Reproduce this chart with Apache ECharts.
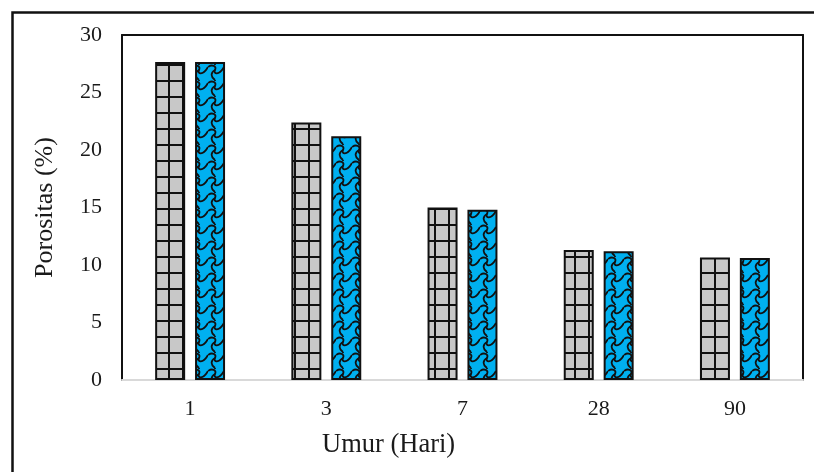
<!DOCTYPE html>
<html>
<head>
<meta charset="utf-8">
<script src="https://cdn.jsdelivr.net/npm/echarts@6/dist/echarts.min.js"></script>
<style>
html,body{margin:0;padding:0;background:#fff;}
#chart{width:814px;height:472px;}
</style>
</head>
<body>
<div id="chart"></div>
<script>
const categories = ['1', '3', '7', '28', '90'];
const seriesA = [27.65, 22.4, 15.0, 11.3, 10.65];
const seriesB = [27.65, 21.2, 14.8, 11.2, 10.6];
const yTicks = { min: 0, max: 30, interval: 5 };

function gridPattern() {
  const c = document.createElement('canvas');
  c.width = 14; c.height = 16;
  const ctx = c.getContext('2d');
  ctx.fillStyle = '#c8c8c8';
  ctx.fillRect(0, 0, 14, 16);
  ctx.fillStyle = '#111';
  ctx.fillRect(0, 0, 2, 16);
  ctx.fillRect(0, 0, 14, 2);
  return c;
}
function wavePattern() {
  const c = document.createElement('canvas');
  c.width = 16; c.height = 16;
  const ctx = c.getContext('2d');
  ctx.fillStyle = '#00b0f0';
  ctx.fillRect(0, 0, 16, 16);
  ctx.strokeStyle = '#111';
  ctx.lineWidth = 1.8;
  ctx.beginPath();
  ctx.moveTo(0, 3);
  ctx.bezierCurveTo(4, 0, 9, 2, 7, 6);
  ctx.bezierCurveTo(5, 10, 11, 12, 16, 3);
  ctx.stroke();
  ctx.beginPath();
  ctx.moveTo(7, 6);
  ctx.bezierCurveTo(2, 9, 3, 13, 7, 16);
  ctx.stroke();
  ctx.beginPath();
  ctx.moveTo(7, 0);
  ctx.lineTo(7, 1);
  ctx.stroke();
  return c;
}

const chart = echarts.init(document.getElementById('chart'), null, { renderer: 'canvas' });
const font = '"Liberation Serif", "Times New Roman", serif';
chart.setOption({
  animation: false,
  backgroundColor: '#fff',
  textStyle: { fontFamily: font },
  grid: { left: 122, right: 11, top: 35, bottom: 92, show: false },
  xAxis: [{
    type: 'category', data: categories, position: 'bottom',
    axisLine: { show: true, onZero: false, lineStyle: { color: '#d9d9d9', width: 2 } },
    axisTick: { show: false },
    axisLabel: { color: '#1a1a1a', fontSize: 22, fontFamily: font, margin: 18 }
  }, {
    type: 'category', data: categories, position: 'top',
    axisLine: { show: true, onZero: false, lineStyle: { color: '#111', width: 2 } },
    axisTick: { show: false }, axisLabel: { show: false }
  }],
  yAxis: [{
    type: 'value', min: yTicks.min, max: yTicks.max, interval: yTicks.interval,
    axisLine: { show: true, onZero: false, lineStyle: { color: '#111', width: 2 } },
    axisTick: { show: false },
    splitLine: { show: false },
    axisLabel: { color: '#1a1a1a', fontSize: 22, fontFamily: font, margin: 20 },
    name: 'Porositas (%)', nameLocation: 'middle', nameGap: 64, nameRotate: 90,
    nameTextStyle: { color: '#1a1a1a', fontSize: 26, fontFamily: font }
  }, {
    type: 'value', min: yTicks.min, max: yTicks.max, interval: yTicks.interval, position: 'right',
    axisLine: { show: true, onZero: false, lineStyle: { color: '#111', width: 2 } },
    axisTick: { show: false }, axisLabel: { show: false }, splitLine: { show: false }
  }],
  graphic: [{
    type: 'rect', left: 10, top: 10, silent: true, z: -1,
    shape: { x: 0, y: 0, width: 840, height: 500 },
    style: { fill: 'none', stroke: '#111', lineWidth: 2.5 }
  }, {
    type: 'text', left: 322, top: 432,
    style: { text: 'Umur (Hari)', font: '26.5px ' + font, fill: '#1a1a1a' }
  }],
  series: [{
    type: 'bar', data: seriesA, xAxisIndex: 0, yAxisIndex: 0,
    barWidth: 30, barGap: '33%',
    itemStyle: { color: { image: gridPattern(), repeat: 'repeat' }, borderColor: '#111', borderWidth: 2 }
  }, {
    type: 'bar', data: seriesB, xAxisIndex: 0, yAxisIndex: 0,
    barWidth: 30, barGap: '33%',
    itemStyle: { color: { image: wavePattern(), repeat: 'repeat' }, borderColor: '#111', borderWidth: 2 }
  }]
});
</script>
</body>
</html>
